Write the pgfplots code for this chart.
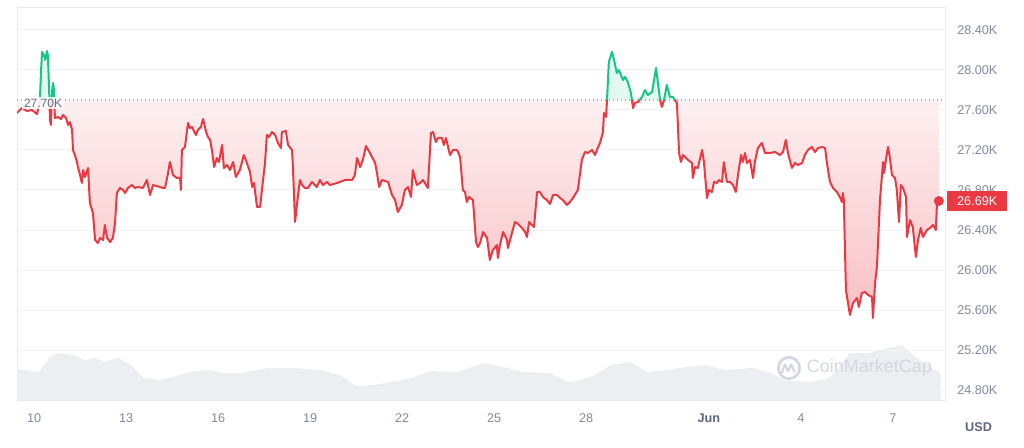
\documentclass[border=0pt]{standalone}
\usepackage{fontspec}
\setmainfont{Liberation Sans}
\usepackage{pgfplots}
\pgfplotsset{compat=1.18}
\usepackage{pgfplotstable}
\definecolor{cmcred}{HTML}{EA3943}
\definecolor{cmcgreen}{HTML}{16C784}
\definecolor{tickgray}{HTML}{808A9D}
\definecolor{darkgray2}{HTML}{58667E}
\definecolor{gridc}{HTML}{F1F2F4}
\definecolor{framec}{HTML}{E9EBEE}
\definecolor{volc}{HTML}{ECEEF2}
\definecolor{wmc}{HTML}{D3D8E0}
\definecolor{basec}{HTML}{A6B0C3}
\definecolor{labgray}{HTML}{616E85}

\pgfplotsset{
  cmcbase/.style={anchor=south west, width=696pt, scale only axis, xmin=9.444, xmax=39.70},
}

\pgfplotstableread{
d v
9.44 27570
9.61 27620
9.77 27590
9.93 27600
10.10 27560
10.19 27700
10.23 28000
10.26 28180
10.32 28150
10.36 28100
10.39 28140
10.42 28190
10.45 28150
10.49 27820
10.52 27500
10.55 27450
10.59 27800
10.62 27870
10.65 27800
10.68 27520
10.78 27530
10.88 27510
10.94 27550
11.04 27520
11.11 27450
11.17 27480
11.24 27400
11.27 27200
11.33 27150
11.40 27080
11.43 27030
11.50 26950
11.56 26870
11.60 27000
11.66 26930
11.76 27020
11.82 26670
11.89 26600
11.92 26570
11.99 26300
12.08 26270
12.15 26320
12.25 26300
12.31 26450
12.38 26320
12.48 26280
12.57 26320
12.64 26470
12.70 26770
12.80 26820
12.90 26800
12.97 26770
13.06 26820
13.19 26850
13.29 26820
13.39 26830
13.55 26820
13.68 26900
13.78 26750
13.88 26850
13.98 26840
14.11 26830
14.20 26820
14.27 26820
14.37 26970
14.43 27080
14.53 26950
14.66 26920
14.76 26920
14.79 26800
14.82 27200
14.92 27230
15.02 27470
15.08 27420
15.15 27430
15.21 27390
15.28 27350
15.34 27400
15.44 27430
15.51 27510
15.61 27380
15.67 27330
15.74 27300
15.80 27200
15.87 27030
15.96 27120
16.03 27080
16.13 27250
16.19 27020
16.29 27050
16.39 27000
16.49 27080
16.58 26930
16.71 27000
16.84 27150
16.94 27070
17.04 26980
17.11 26830
17.17 26870
17.27 26630
17.37 26630
17.43 26800
17.53 27070
17.59 27350
17.66 27330
17.76 27380
17.86 27350
17.95 27270
18.05 27220
18.08 27380
18.21 27390
18.28 27250
18.41 27200
18.44 27030
18.51 26480
18.60 26730
18.67 26900
18.74 26850
18.83 26820
18.93 26820
19.06 26880
19.22 26830
19.32 26900
19.42 26850
19.55 26880
19.65 26850
19.88 26870
20.14 26900
20.37 26900
20.46 26950
20.53 27120
20.63 27030
20.72 27100
20.82 27240
20.95 27170
21.12 27070
21.18 26970
21.25 26830
21.34 26900
21.54 26880
21.67 26750
21.77 26700
21.86 26580
21.99 26650
22.09 26800
22.19 26830
22.29 26730
22.35 27000
22.48 26850
22.58 26870
22.68 26900
22.78 26850
22.84 26820
22.94 27370
23.01 27380
23.10 27280
23.17 27320
23.30 27320
23.36 27250
23.43 27320
23.56 27150
23.66 27200
23.79 27200
23.89 27130
23.98 26800
24.05 26780
24.11 26680
24.18 26730
24.31 26700
24.41 26280
24.47 26230
24.54 26270
24.64 26380
24.77 26320
24.86 26100
24.96 26200
25.09 26250
25.12 26120
25.19 26250
25.29 26380
25.42 26300
25.45 26220
25.58 26370
25.68 26480
25.78 26460
25.91 26420
26.01 26380
26.07 26330
26.14 26480
26.23 26450
26.30 26430
26.40 26780
26.49 26780
26.59 26730
26.72 26700
26.82 26660
26.92 26750
27.05 26750
27.15 26720
27.24 26700
27.37 26650
27.47 26680
27.57 26720
27.73 26800
27.86 27100
27.96 27180
28.06 27170
28.19 27200
28.29 27150
28.35 27200
28.45 27270
28.55 27380
28.58 27570
28.65 27530
28.68 27700
28.74 28080
28.84 28180
28.91 28100
29.00 27970
29.07 28000
29.20 27900
29.27 27930
29.36 27880
29.46 27770
29.53 27620
29.59 27670
29.69 27680
29.82 27730
29.92 27800
30.01 27750
30.15 27780
30.28 28020
30.41 27700
30.47 27630
30.54 27700
30.63 27850
30.73 27730
30.83 27730
30.96 27670
31.03 27170
31.09 27080
31.16 27150
31.32 27100
31.45 27070
31.48 26920
31.55 27030
31.64 27020
31.78 27200
31.84 27080
31.94 26720
32.00 26800
32.10 26780
32.17 26880
32.26 26870
32.33 26900
32.43 26880
32.49 27080
32.59 26880
32.69 26880
32.79 26850
32.88 26780
32.95 26950
33.05 27150
33.11 27080
33.18 27170
33.24 27070
33.34 27100
33.44 26920
33.50 27080
33.60 27220
33.73 27270
33.83 27170
33.99 27170
34.16 27180
34.32 27150
34.42 27180
34.51 27300
34.58 27170
34.71 27020
34.81 27070
34.90 27050
35.04 27070
35.13 27150
35.23 27200
35.36 27230
35.46 27180
35.56 27220
35.69 27230
35.79 27220
35.85 27070
35.95 26880
36.05 26820
36.18 26780
36.27 26730
36.34 26680
36.37 26770
36.40 26700
36.47 25800
36.60 25550
36.70 25670
36.83 25720
36.89 25630
36.99 25770
37.09 25780
37.19 25750
37.32 25730
37.35 25520
37.42 25870
37.48 26030
37.58 26700
37.68 27080
37.71 26970
37.84 27230
37.90 27130
37.97 26950
38.07 26920
38.13 26800
38.20 26480
38.26 26850
38.33 26820
38.43 26730
38.46 26330
38.56 26500
38.65 26430
38.75 26130
38.82 26300
38.91 26420
38.98 26330
39.11 26400
39.21 26420
39.31 26450
39.40 26400
39.44 26670
39.50 26690
}\pricedata

\pgfplotstableread{
d h
9.48 31
10.16 28
10.49 42
10.81 47
11.24 45
11.66 40
11.99 42
12.31 38
12.74 42
13.16 35
13.58 22
14.11 20
14.53 23
15.08 28
15.70 30
16.13 27
16.78 27
17.63 32
18.47 32
19.32 30
19.97 25
20.50 14
21.05 15
21.67 18
22.32 22
22.94 29
23.82 28
24.67 37
25.29 33
25.94 28
26.79 27
27.44 18
27.86 20
28.29 25
28.81 35
29.46 38
29.98 28
30.63 30
31.25 33
31.90 35
32.52 30
33.41 32
34.02 27
34.45 20
35.30 18
35.95 22
36.60 47
37.22 47
37.87 52
38.30 55
38.72 43
39.37 30
39.56 27
}\voldata

\begin{document}
\begin{tikzpicture}
\path[use as bounding box] (0,0) rectangle (768pt,335.25pt);
% volume
\begin{axis}[cmcbase, at={(12.75pt,35.25pt)}, height=294.75pt, ymin=0, ymax=393, hide axis]
\addplot[fill=volc, draw=none] table[x=d,y=h] {\voldata} \closedcycle;
\end{axis}
% watermark
\draw[wmc, line width=2pt] (591.75pt,59.25pt) circle (8pt);
\draw[wmc, line width=1.6pt, line join=round] (586.5pt,55.5pt) -- (588.5pt,62pt) -- (591pt,57pt) -- (593.5pt,62pt) -- (596pt,56pt);
\node[anchor=west, text=wmc, font=\fontsize{13.5}{15}\selectfont, inner sep=0pt] at (605pt,59.25pt) {CoinMarketCap};
% frame, grid, ticks
\begin{axis}[cmcbase, at={(12.75pt,35.25pt)}, height=294.75pt, ymin=24700, ymax=28630,
  axis line style={framec},
  scaled y ticks=false, scaled x ticks=false,
  ytick={24800,25200,...,28400},
  yticklabels={24.80K,25.20K,25.60K,26.00K,26.40K,26.80K,27.20K,27.60K,28.00K,28.40K},
  yticklabel pos=right,
  ymajorgrids, grid style={gridc, line width=0.75pt},
  major tick length=0pt,
  xtick={10,13,16,19,22,25,28,32,35,38},
  xticklabels={10,13,16,19,22,25,28,{\color{darkgray2}\bfseries Jun},4,7},
  tick label style={font=\fontsize{9.5}{10}\selectfont, text=tickgray},
  yticklabel style={anchor=west, inner sep=0pt, xshift=9pt},
  xticklabel style={anchor=base, inner sep=0pt, yshift=-16.9pt}]
\addplot[draw=none] coordinates {(9.444,27700) (39.70,27700)};
\end{axis}
% part below 27.70K (red)
\begin{axis}[cmcbase, at={(12.75pt,35.25pt)}, height=225pt, ymin=24700, ymax=27700, hide axis, clip=true]
\addplot[top color=cmcred!2, bottom color=cmcred!32, draw=none] table[x=d,y=v] {\pricedata}
  -- (axis cs:39.50,27700) -- (axis cs:9.44,27700) -- cycle;
\addplot[cmcred, line width=1.5pt, line join=round] table[x=d,y=v] {\pricedata};
\end{axis}
% part above 27.70K (green)
\begin{axis}[cmcbase, at={(12.75pt,260.25pt)}, height=69.75pt, ymin=27700, ymax=28630, hide axis, clip=true]
\addplot[fill=cmcgreen!12, draw=none] table[x=d,y=v] {\pricedata}
  -- (axis cs:39.50,27700) -- (axis cs:9.44,27700) -- cycle;
\addplot[cmcgreen, line width=1.5pt, line join=round] table[x=d,y=v] {\pricedata};
\end{axis}
% overlay: baseline, last price
\begin{axis}[cmcbase, at={(12.75pt,35.25pt)}, height=294.75pt, ymin=24700, ymax=28630, hide axis, clip=false]
\addplot[basec, line width=0.9pt, dash pattern=on 0.9pt off 2.1pt] coordinates {(9.444,27700) (39.70,27700)};
\addplot[only marks, mark=*, mark size=3.5pt, cmcred] coordinates {(39.50,26690)};
\node[fill=white, fill opacity=0.85, text opacity=1, text=labgray, anchor=west, inner xsep=1.5pt, inner ysep=1pt,
  font=\fontsize{9}{10}\selectfont] at (axis cs:9.60,27670) {27.70K};
\coordinate (endlab) at (axis cs:39.70,26690);
\end{axis}
\node[fill=cmcred, text=white, anchor=west, minimum width=45pt, minimum height=15pt, inner sep=0pt,
  font=\fontsize{9.5}{10}\selectfont] at ([xshift=1.5pt]endlab) {26.69K};
\node[text=darkgray2, font=\bfseries\fontsize{9.5}{10}\selectfont] at (733.9pt,15pt) {USD};
\end{tikzpicture}
\end{document}
